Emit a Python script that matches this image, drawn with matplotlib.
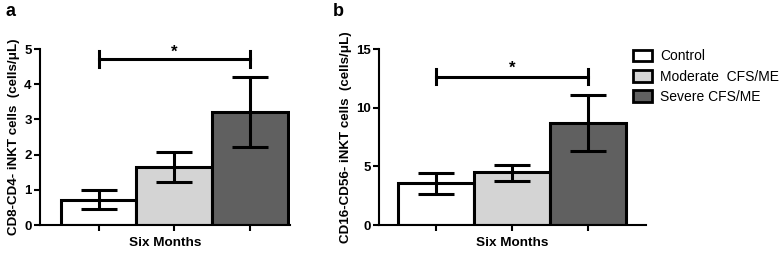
import numpy as np
import matplotlib.pyplot as plt
from matplotlib.patches import Patch

plt.rcParams['font.family'] = ['Liberation Sans', 'DejaVu Sans']

groups = ["Control", "Moderate  CFS/ME", "Severe CFS/ME"]
colors = ["#ffffff", "#d4d4d4", "#606060"]

# panel a: CD8-CD4- iNKT cells
a_vals = [0.72, 1.65, 3.21]
a_err_up = [0.28, 0.42, 0.99]
a_err_dn = [0.27, 0.43, 0.99]

# panel b: CD16-CD56- iNKT cells
b_vals = [3.56, 4.48, 8.7]
b_err_up = [0.85, 0.6, 2.4]
b_err_dn = [0.9, 0.72, 2.43]

fig = plt.figure(figsize=(7.84, 2.54), dpi=100)
ax_a = fig.add_axes([40/784, 1-225/254, 250/784, 176/254])
ax_b = fig.add_axes([379/784, 1-225/254, 267/784, 176/254])


def draw(ax, vals, up, dn, ymax, yticks, xlim, ylabel, sig_y, sig_h, star_y):
    x = np.arange(len(vals))
    ax.bar(x, vals, width=1.0, color=colors, edgecolor="black", linewidth=2.2, zorder=2)
    ax.errorbar(x, vals, yerr=[dn, up], fmt="none", ecolor="black",
                elinewidth=2.2, capsize=13, capthick=2.2, zorder=3)
    ax.set_xlim(*xlim)
    ax.set_ylim(0, ymax)
    ax.set_yticks(yticks)
    ax.set_xticks(x)
    ax.set_xticklabels([])
    ax.set_xlabel("Six Months", fontsize=9.7, fontweight="bold", labelpad=3)
    ax.set_ylabel(ylabel, fontsize=9.6, fontweight="bold", labelpad=3)
    for s in ["top", "right"]:
        ax.spines[s].set_visible(False)
    for s in ["left", "bottom"]:
        ax.spines[s].set_linewidth(1.5)
    ax.tick_params(axis="both", width=1.5, length=4, labelsize=9.5, pad=2)
    for lbl in ax.get_yticklabels():
        lbl.set_fontweight("bold")
    # significance bracket
    ax.plot([0, 2], [sig_y, sig_y], color="black", lw=2.2, clip_on=False)
    ax.plot([0, 0], [sig_y - sig_h, sig_y + sig_h], color="black", lw=2.2, clip_on=False)
    ax.plot([2, 2], [sig_y - sig_h, sig_y + sig_h], color="black", lw=2.2, clip_on=False)
    ax.text(1, star_y, "*", ha="center", va="center", fontsize=12, fontweight="bold")


draw(ax_a, a_vals, a_err_up, a_err_dn, 5, [0, 1, 2, 3, 4, 5], (-0.776, 2.53),
     "CD8-CD4- iNKT cells  (cells/\u03bcL)", 4.72, 0.23, 4.92)
draw(ax_b, b_vals, b_err_up, b_err_dn, 15, [0, 5, 10, 15], (-0.75, 2.76),
     "CD16-CD56- iNKT cells  (cells/\u03bcL)", 12.65, 0.65, 13.35)

fig.text(5/784, 1-12/254, "a", fontsize=13, fontweight="bold", va="center")
fig.text(333/784, 1-12/254, "b", fontsize=13, fontweight="bold", va="center")

handles = [Patch(facecolor=c, edgecolor="black", linewidth=2.0) for c in colors]
fig.legend(handles, groups, loc="upper left", bbox_to_anchor=(620/784, 1-37/254),
           frameon=False, fontsize=10, handlelength=1.4, handleheight=0.9,
           handletextpad=0.6, labelspacing=0.45)

fig.savefig("out.png", dpi=100)
